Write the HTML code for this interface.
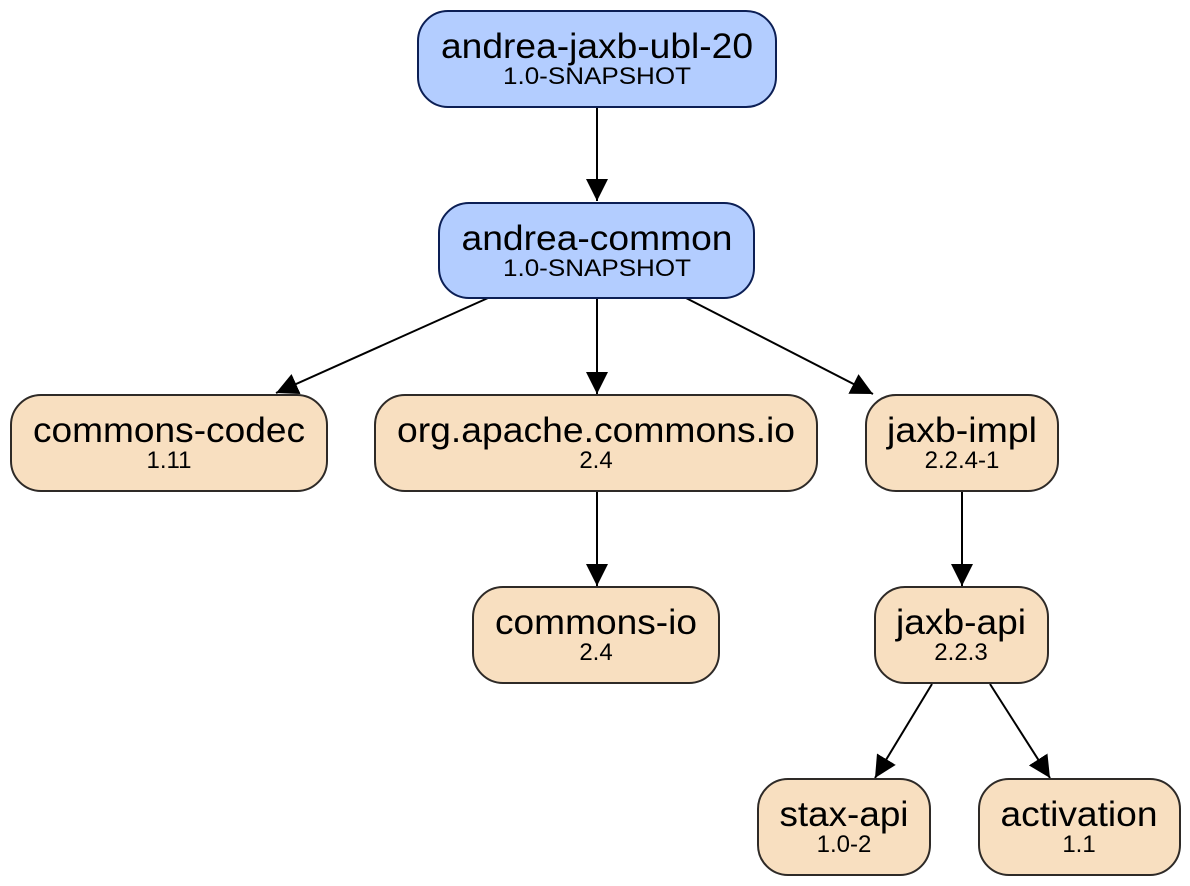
<!DOCTYPE html>
<html><head><meta charset="utf-8"><style>
html,body{margin:0;padding:0;background:#fff}
svg{display:block}
text{font-family:"Liberation Sans",Arial,sans-serif;fill:#000;text-anchor:middle}
.t{font-size:35px}.v{font-size:24px}
.b{fill:#b3cdff;stroke:#0c1f55;stroke-width:2}
.o{fill:#f8dfc0;stroke:#2e2a27;stroke-width:2}
line{stroke:#000;stroke-width:2}
</style></head><body>
<svg width="1190" height="886" viewBox="0 0 1190 886">
<defs><marker id="a" markerWidth="22" markerHeight="30" refX="22" refY="11" orient="auto" markerUnits="userSpaceOnUse" viewBox="0 0 22 22"><path d="M0,0 L22,11 L0,22 z" fill="#000"/></marker></defs>
<g>
<line x1="597" y1="107" x2="597" y2="201" marker-end="url(#a)"/>
<line x1="488" y1="298" x2="276" y2="393" marker-end="url(#a)"/>
<line x1="597" y1="298" x2="597" y2="394" marker-end="url(#a)"/>
<line x1="686" y1="298" x2="873" y2="394" marker-end="url(#a)"/>
<line x1="597" y1="491" x2="597" y2="586" marker-end="url(#a)"/>
<line x1="962" y1="491" x2="962" y2="586" marker-end="url(#a)"/>
<line x1="932" y1="684" x2="875" y2="778" marker-end="url(#a)"/>
<line x1="990" y1="684" x2="1050" y2="778" marker-end="url(#a)"/>
</g>
<rect class="b" x="418" y="11" width="358" height="96" rx="30"/>
<text class="t" x="597" y="58" textLength="312" lengthAdjust="spacingAndGlyphs">andrea-jaxb-ubl-20</text><text class="v" x="597" y="84" textLength="188" lengthAdjust="spacingAndGlyphs">1.0-SNAPSHOT</text>
<rect class="b" x="439" y="203" width="315" height="95" rx="30"/>
<text class="t" x="597" y="250" textLength="271" lengthAdjust="spacingAndGlyphs">andrea-common</text><text class="v" x="597" y="276" textLength="188" lengthAdjust="spacingAndGlyphs">1.0-SNAPSHOT</text>
<rect class="o" x="11" y="395" width="316" height="96" rx="30"/>
<text class="t" x="169" y="442" textLength="272" lengthAdjust="spacingAndGlyphs">commons-codec</text><text class="v" x="169" y="468">1.11</text>
<rect class="o" x="375" y="395" width="442" height="96" rx="30"/>
<text class="t" x="596" y="442" textLength="398" lengthAdjust="spacingAndGlyphs">org.apache.commons.io</text><text class="v" x="596" y="468">2.4</text>
<rect class="o" x="866" y="395" width="192" height="96" rx="30"/>
<text class="t" x="962" y="442" textLength="150" lengthAdjust="spacingAndGlyphs">jaxb-impl</text><text class="v" x="962" y="468">2.2.4-1</text>
<rect class="o" x="473" y="587" width="246" height="96" rx="30"/>
<text class="t" x="596" y="634" textLength="202" lengthAdjust="spacingAndGlyphs">commons-io</text><text class="v" x="596" y="660">2.4</text>
<rect class="o" x="875" y="587" width="173" height="96" rx="30"/>
<text class="t" x="961" y="634" textLength="130" lengthAdjust="spacingAndGlyphs">jaxb-api</text><text class="v" x="961" y="660">2.2.3</text>
<rect class="o" x="758" y="779" width="172" height="96" rx="30"/>
<text class="t" x="844" y="826" textLength="129" lengthAdjust="spacingAndGlyphs">stax-api</text><text class="v" x="844" y="852">1.0-2</text>
<rect class="o" x="979" y="779" width="201" height="96" rx="30"/>
<text class="t" x="1079" y="826" textLength="157" lengthAdjust="spacingAndGlyphs">activation</text><text class="v" x="1079" y="852">1.1</text>
</svg>
</body></html>
